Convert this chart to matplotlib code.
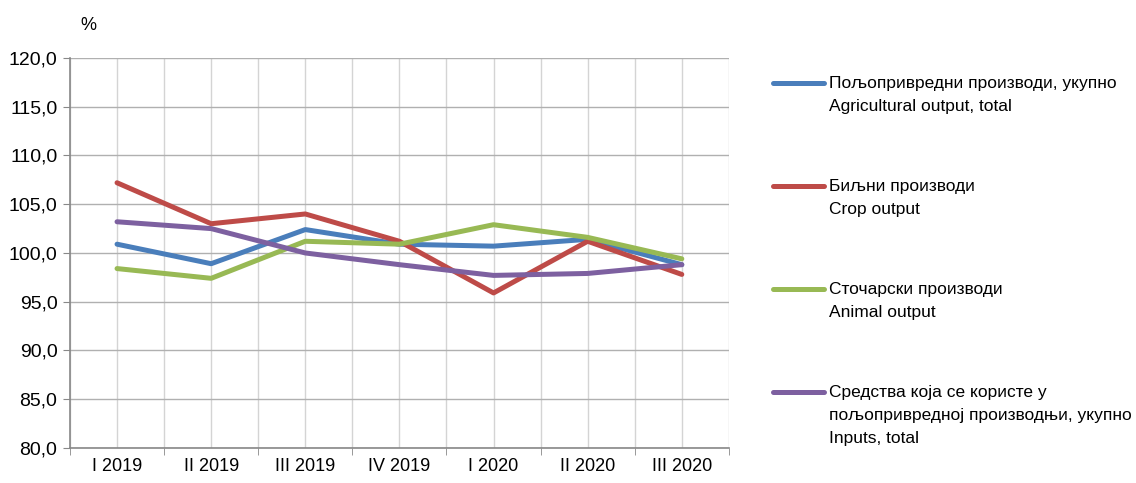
import matplotlib.pyplot as plt
from matplotlib.lines import Line2D

plt.rcParams['font.family'] = ['Liberation Sans Narrow', 'Liberation Sans', 'DejaVu Sans']

quarters = ['I 2019', 'II 2019', 'III 2019', 'IV 2019', 'I 2020', 'II 2020', 'III 2020']
agri_total = [100.9, 98.9, 102.4, 100.9, 100.7, 101.4, 98.8]
crop = [107.2, 103.0, 104.0, 101.2, 95.9, 101.2, 97.8]
animal = [98.4, 97.4, 101.2, 100.9, 102.9, 101.6, 99.4]
inputs = [103.2, 102.5, 100.0, 98.8, 97.7, 97.9, 98.8]

labels = ['Пољопривредни производи, укупно\nAgricultural output, total',
          'Биљни производи\nCrop output',
          'Сточарски производи\nAnimal output',
          'Средства која се користе у\nпољопривредној производњи, укупно\nInputs, total']
colors = ['#4a7ebb', '#be4b48', '#98b954', '#7d60a0']

fig = plt.figure(figsize=(11.36, 4.83), dpi=100)
ax = fig.add_axes([0.0616, 0.0725, 0.58, 0.8075])

x = list(range(len(quarters)))
for ys, c in zip([agri_total, crop, animal, inputs], colors):
    ax.plot(x, ys, color=c, lw=3.6, solid_capstyle='round', zorder=3)

ax.set_xlim(-0.5, len(quarters) - 0.5)
ax.set_ylim(80, 120)
ax.set_yticks(range(80, 121, 5))
ax.set_yticklabels([f'{v},0' for v in range(80, 121, 5)], fontsize=14)
ax.set_xticks(x)
ax.set_xticklabels(quarters, fontsize=13)
ax.set_xticks([i - 0.5 for i in range(len(quarters) + 1)], minor=True)
ax.tick_params(axis='x', which='major', length=0, pad=7)
ax.tick_params(axis='x', which='minor', length=5, color='#888888')
ax.tick_params(axis='y', length=5, color='#888888', pad=4)

ax.grid(axis='y', color='#b0b0b0', lw=1)
ax.grid(axis='x', which='both', color='#d4d4d4', lw=1)
ax.set_axisbelow(True)
for s in ['top', 'right']:
    ax.spines[s].set_visible(False)
for s in ['left', 'bottom']:
    ax.spines[s].set_color('#888888')
    ax.spines[s].set_linewidth(1.2)

fig.text(88 / 1136, 1 - 25 / 483, '%', fontsize=13, ha='center', va='center')

# legend
ys_leg = [83, 186, 289, 392]
for y0, lab, c in zip(ys_leg, labels, colors):
    yf = 1 - y0 / 483
    fig.add_artist(Line2D([773 / 1136, 824 / 1136], [yf, yf], color=c, lw=3.6,
                          solid_capstyle='round', transform=fig.transFigure))
    fig.text(829 / 1136, 1 - (y0 - 7) / 483, lab, fontsize=12.5, ha='left', va='top',
             linespacing=1.65)

fig.savefig('out.png', dpi=100)
